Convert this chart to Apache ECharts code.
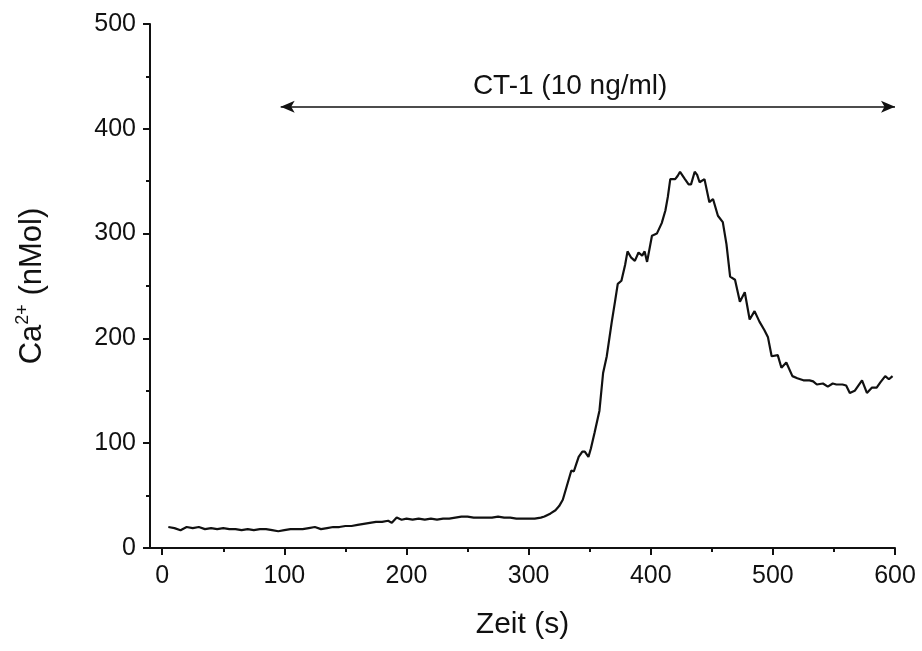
<!DOCTYPE html>
<html>
<head>
<meta charset="utf-8">
<script src="https://cdn.jsdelivr.net/npm/echarts@6/dist/echarts.min.js"></script>
<style>html,body{margin:0;padding:0;background:#fff}#c{width:922px;height:651px}</style>
</head>
<body>
<div id="c"></div>
<script>
// ---- data ----
var timeS = [5,10,15,20,25,30,35,40,45,50,55,60,65,70,75,80,85,90,95,100,105,110,115,120,125,130,135,140,145,150,155,160,165,170,175,180,185,188,192,196,200,205,210,215,220,225,230,235,240,245,250,255,260,265,270,275,280,285,290,295,300,305,310,313,318,322,325,328,331,335,337,339,341,344,346,349,351,354,358,361,364,368,371,373,376,379,381,384,387,390,393,395,397,401,405,409,412,414,416,420,422,424,428,431,433,436,438,440,444,448,451,455,459,462,465,469,473,477,481,485,489,493,496,499,504,507,511,516,520,525,530,533,536,541,545,549,552,557,560,563,567,570,573,577,581,585,588,592,595,598];
var caValues = [20,19,17,20,19,20,18,19,18,19,18,18,17,18,17,18,18,17,16,17,18,18,18,19,20,18,19,20,20,21,21,22,23,24,25,25,26,24,29,27,28,27,28,27,28,27,28,28,29,30,30,29,29,29,29,30,29,29,28,28,28,28,29,30,33,36,40,46,58,74,73,80,87,92,92,87,95,110,131,167,183,215,237,252,255,270,283,277,274,282,279,283,273,298,300,310,322,335,352,352,355,359,352,347,347,359,356,349,352,330,333,317,311,290,259,256,235,244,218,226,216,208,201,183,184,172,177,164,162,160,160,159,156,157,154,157,156,156,155,148,150,155,160,148,153,153,158,164,161,164];
var xTickValues = [0,100,200,300,400,500,600];
var xMinorTickValues = [50,150,250,350,450,550];
var arrowStart = [97, 421];
var arrowEnd = [600, 421];
var annotationText = 'CT-1 (10 ng/ml)';
var annotationPos = [334, 441];
var xAxisTitle = 'Zeit (s)';

var pts = timeS.map(function(t,i){return [t, caValues[i]];});
var FONT = '"Liberation Sans", Arial, sans-serif';
var black = '#111';

var chart = echarts.init(document.getElementById('c'), null, {renderer:'canvas'});
chart.setOption({
  animation:false,
  backgroundColor:'#fff',
  grid:{left:150,right:27,top:24,bottom:103,containLabel:false},
  xAxis:[{
    type:'value', min:-10, max:600, position:'bottom',
    name:xAxisTitle, nameLocation:'middle', nameGap:62,
    nameTextStyle:{fontFamily:FONT,fontSize:30,color:black},
    axisLine:{show:true,onZero:false,lineStyle:{color:black,width:2}},
    axisTick:{show:true,inside:false,length:7,lineStyle:{color:black,width:2},customValues:xTickValues},
    axisLabel:{show:true,margin:16,fontFamily:FONT,fontSize:25,color:black,customValues:xTickValues},
    splitLine:{show:false}
  },{
    type:'value', min:-10, max:600, position:'bottom', gridIndex:0,
    axisLine:{show:false},
    axisTick:{show:true,inside:false,length:4,lineStyle:{color:black,width:2},customValues:xMinorTickValues},
    axisLabel:{show:false},
    splitLine:{show:false}
  }],
  yAxis:{
    type:'value', min:0, max:500, interval:100, position:'left',
    name:'{a|Ca}{s|2+}{a| (nMol)}', nameLocation:'middle', nameGap:100, nameRotate:90,
    nameTextStyle:{fontFamily:FONT,fontSize:31,color:black,
      rich:{a:{fontFamily:FONT,fontSize:31,color:black,lineHeight:36},
            s:{fontFamily:FONT,fontSize:18,color:black,verticalAlign:'top',lineHeight:36,padding:[0,0,14,0]}}},
    axisLine:{show:true,onZero:false,lineStyle:{color:black,width:2}},
    axisTick:{show:true,inside:false,length:7,lineStyle:{color:black,width:2}},
    minorTick:{show:true,splitNumber:2,length:4,lineStyle:{color:black,width:2}},
    axisLabel:{show:true,margin:14,fontFamily:FONT,fontSize:25,color:black},
    splitLine:{show:false},
    minorSplitLine:{show:false}
  },
  series:[{
    type:'line', xAxisIndex:0, data:pts, showSymbol:false, symbol:'none', clip:false,
    lineStyle:{color:black,width:2.2}, z:3,
    markLine:{
      silent:true, symbol:['arrow','arrow'], symbolSize:[9,14],
      lineStyle:{color:black,width:1.6,type:'solid'},
      label:{show:false},
      data:[[{coord:arrowStart},{coord:arrowEnd}]]
    },
    markPoint:{
      silent:true, symbol:'circle', symbolSize:0,
      label:{show:true,position:'inside',formatter:annotationText,fontFamily:FONT,fontSize:28,color:black},
      data:[{coord:annotationPos}]
    }
  }]
});
</script>
</body>
</html>
